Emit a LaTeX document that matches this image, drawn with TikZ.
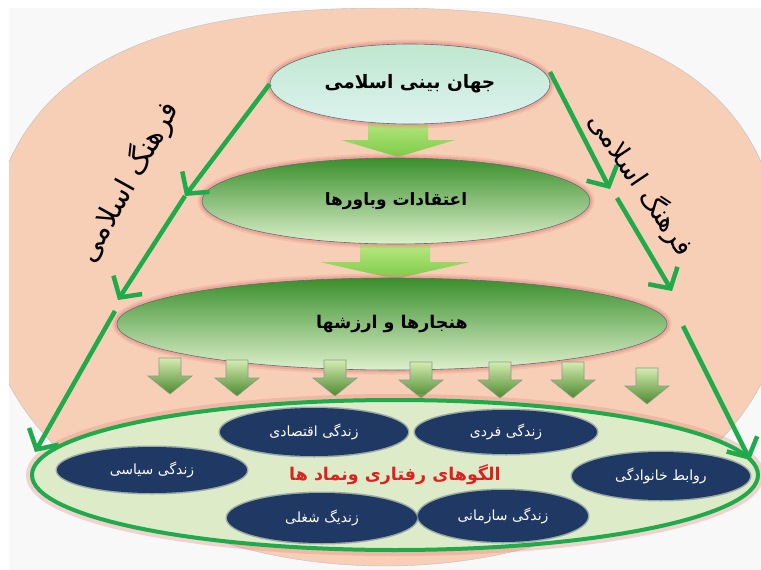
\documentclass[tikz,border=0pt]{standalone}
\usepackage{fontspec}
\newfontfamily\ar[Script=Arabic]{DejaVu Sans}
\TeXXeTstate=1
\usetikzlibrary{shapes.geometric,arrows.meta}
\definecolor{peach}{HTML}{F7CFB6}
\definecolor{bggray}{HTML}{F8F8F8}
\definecolor{lgreen}{HTML}{1FAA4B}
\definecolor{glowc}{HTML}{E58C84}
\definecolor{navyc}{HTML}{1F3864}
\definecolor{patfill}{HTML}{DDEBC8}
\definecolor{redtxt}{HTML}{E02020}
\definecolor{outl}{HTML}{5F6E74}
\definecolor{mintTop}{HTML}{BFE7CF}
\definecolor{mintBot}{HTML}{DDF3EF}
\definecolor{dgTop}{HTML}{3A8F2C}
\definecolor{dgBot}{HTML}{DDF0CC}
\definecolor{baTop}{HTML}{C8F090}
\definecolor{baBot}{HTML}{7CCB48}
\definecolor{saTop}{HTML}{D5EBB0}
\definecolor{saBot}{HTML}{4B8A2E}
\definecolor{saLine}{HTML}{8A9A8A}
\tikzset{
  lvl/.style={ellipse, inner sep=0pt, draw=outl, line width=0.6pt,
    preaction={draw=glowc, line width=9pt, opacity=0.25},
    preaction={draw=glowc, line width=5pt, opacity=0.45}},
  lvltxt/.style={font=\ar\bfseries\fontsize{#1}{#1}\selectfont},
  navyell/.style={ellipse, inner sep=0pt, fill=navyc,
    preaction={draw=navyc, line width=3pt, opacity=0.35},
    text=white, font=\ar\fontsize{14}{16}\selectfont},
  patell/.style={ellipse, inner sep=0pt, fill=patfill, draw=lgreen, line width=4pt,
    preaction={draw=glowc, line width=12pt, opacity=0.35}},
  garrow/.style={draw=lgreen, line width=4.5pt, -{Straight Barb[length=15pt,width=34pt]}},
  bigarrow/.style={top color=baTop, bottom color=baBot, draw=none},
  smallarrow/.style={top color=saTop, bottom color=saBot, draw=saLine, line width=0.6pt},
  sidetxt/.style={font=\ar\fontsize{#1}{#1}\selectfont, text=black},
  pics/downarrow/.style={code={
    \path[smallarrow] (-11,0) -- (11,0) -- (11,18) -- (22,18) -- (0,36) -- (-22,18) -- (-11,18) -- cycle;}}
}
\begin{document}
\begin{tikzpicture}[x=1pt,y=-1pt]
\useasboundingbox (0,0) rectangle (761,570);
\fill[white] (0,0) rectangle (761,570);
\fill[bggray] (9,8) rectangle (761,570);
\begin{scope}
  \clip (9,8) rectangle (761,570);
  \fill[peach, draw=gray!50] (385,8) .. controls (105,8) and (-15,95) .. (-15,290)
     .. controls (-15,442) and (164,566) .. (385,566)
     .. controls (606,566) and (785,442) .. (785,290)
     .. controls (785,95) and (665,8) .. (385,8) -- cycle;
\end{scope}
% block arrows between levels
\path[bigarrow] (368,110) -- (428,110) -- (428,140) -- (455,140) -- (398,157) -- (341,140) -- (368,140) -- cycle;
\path[bigarrow] (360,235) -- (430,235) -- (430,262) -- (470,262) -- (395,279) -- (320,262) -- (360,262) -- cycle;
% levels
\node[lvl, minimum width=280pt, minimum height=80pt, top color=mintTop, bottom color=mintBot,
  lvltxt=18.5] (top) at (410,84) {\beginR جهان بینی  اسلامی\endR};
\node[lvl, minimum width=388pt, minimum height=86pt, top color=dgTop, bottom color=dgBot,
  lvltxt=17] (bel) at (396,201) {\beginR اعتقادات وباورها\endR};
\node[lvl, minimum width=550pt, minimum height=92pt, top color=dgTop, bottom color=dgBot,
  lvltxt=17.5] (norm) at (392,324) {\beginR هنجارها و ارزشها\endR};
% small arrows
\foreach \xx/\yy in {170/358,237/360,335/360,421/362,500/362,573/362,647/368}
  \pic at (\xx,\yy) {downarrow};
% patterns
\node[patell, minimum width=726pt, minimum height=150pt, text=redtxt,
  font=\ar\bfseries\fontsize{17.5}{20}\selectfont] (pat) at (395,475) {\beginR الگوهای رفتاری ونماد ها\endR};
\node[navyell, minimum width=188pt, minimum height=48pt] (econ) at (314,432) {\beginR زندگی اقتصادی\endR};
\node[navyell, minimum width=182pt, minimum height=44pt] (ind) at (506,432) {\beginR زندگی فردی\endR};
\node[navyell, minimum width=190pt, minimum height=46pt] (pol) at (152,470) {\beginR زندگی سیاسی\endR};
\node[navyell, minimum width=178pt, minimum height=48pt] (fam) at (661,476) {\beginR روابط خانوادگی\endR};
\node[navyell, minimum width=190pt, minimum height=50pt] (job) at (322,518) {\beginR زندیگ شغلی\endR};
\node[navyell, minimum width=170pt, minimum height=52pt] (org) at (503,516) {\beginR زندگی سازمانی\endR};
% side texts
\node[sidetxt=29, rotate=61] (sl) at (128,182) {\beginR فرهنگ اسلامی\endR};
\node[sidetxt=27, rotate=-56] (sr) at (641,184) {\beginR فرهنگ اسلامی\endR};
% green arrows
\coordinate (L1) at (185,196);
\coordinate (L2) at (118,300);
\coordinate (L3) at (115,311);
\coordinate (L4) at (35,452);
\coordinate (R0) at (550,72);
\coordinate (R1) at (610,189);
\coordinate (R2) at (617,198);
\coordinate (R3) at (672,291);
\coordinate (R4) at (683,326);
\coordinate (R5) at (750,460);
\draw[garrow] (top.west) -- (L1);
\draw[garrow] (L1) -- (L2);
\draw[garrow] (L3) -- (L4);
\draw[garrow] (R0) -- (R1);
\draw[garrow] (R2) -- (R3);
\draw[garrow] (R4) -- (R5);
\end{tikzpicture}
\end{document}
